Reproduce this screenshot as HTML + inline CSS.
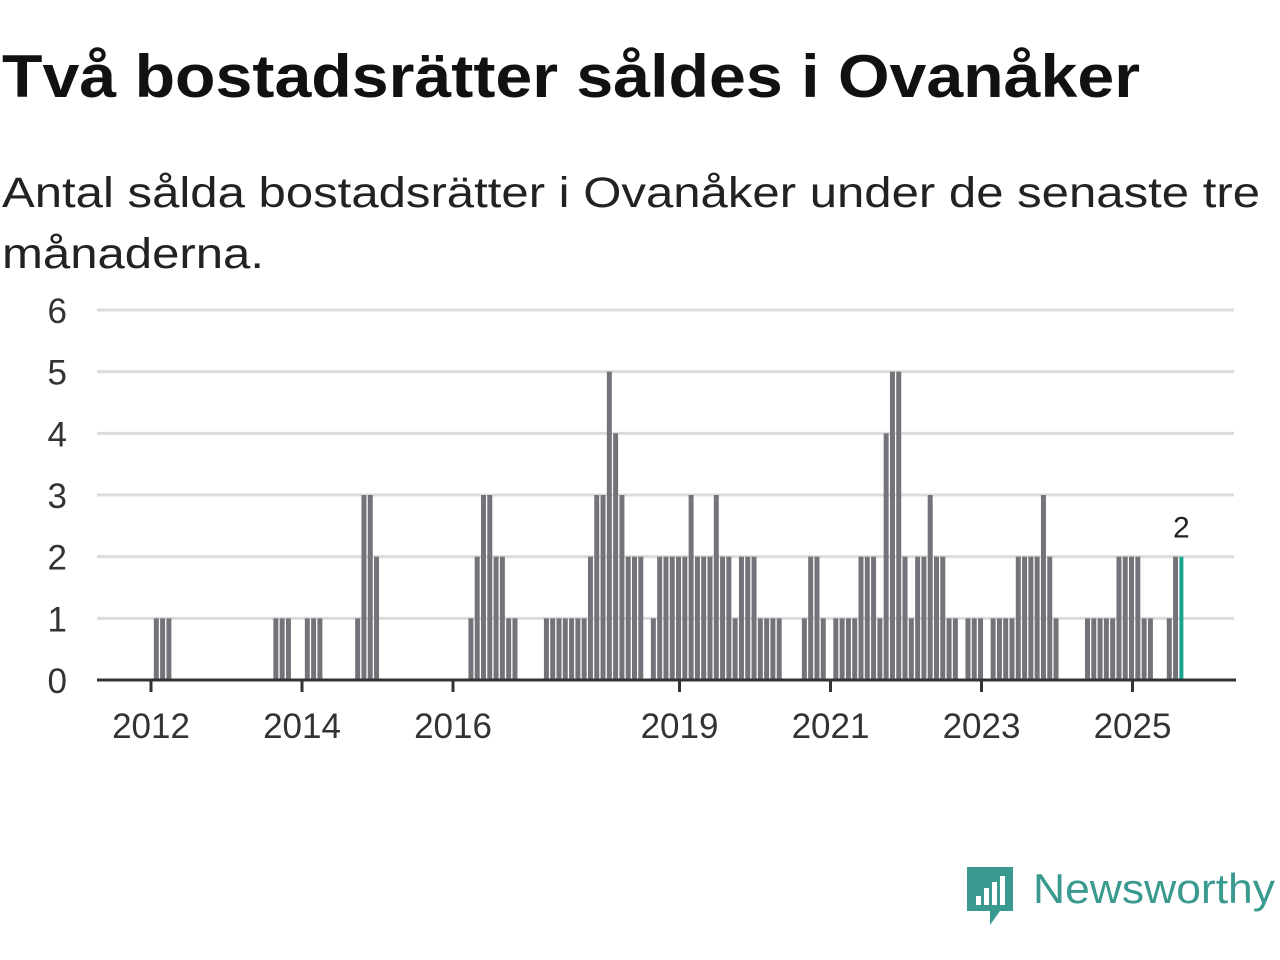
<!DOCTYPE html>
<html><head><meta charset="utf-8"><style>body{margin:0;background:#fff}svg{display:block}</style></head>
<body>
<svg id="chart" width="1280" height="960" xmlns="http://www.w3.org/2000/svg" font-family="'Liberation Sans', sans-serif">
<text x="2" y="97" font-size="60" font-weight="bold" fill="#111" textLength="1138" lengthAdjust="spacingAndGlyphs">Två bostadsrätter såldes i Ovanåker</text>
<text x="2" y="207" font-size="43" fill="#222" textLength="1258" lengthAdjust="spacingAndGlyphs">Antal sålda bostadsrätter i Ovanåker under de senaste tre</text>
<text x="2" y="268" font-size="43" fill="#222" textLength="262" lengthAdjust="spacingAndGlyphs">månaderna.</text>
<g id="grid"></g><g id="bars"></g><g id="axes"></g>
<g>
<path d="M967 867 H1013 V911 H1000 L990 925 V911 H967 Z" fill="#3a9a8f"/>
<rect x="976" y="896" width="5" height="9" fill="#fff"/><rect x="984" y="888" width="5" height="17" fill="#fff"/><rect x="992" y="882" width="5" height="23" fill="#fff"/><rect x="1000" y="876" width="5" height="29" fill="#fff"/>
<text x="1033" y="903" font-size="42" fill="#3a9a8f" textLength="242" lengthAdjust="spacingAndGlyphs">Newsworthy</text>
</g>
</svg>
<script>
const values = [1,1,1,0,0,0,0,0,0,0,0,0, 0,0,0,0,0,0,0,1,1,1,0,0, 1,1,1,0,0,0,0,0,1,3,3,2, 0,0,0,0,0,0,0,0,0,0,0,0, 0,0,1,2,3,3,2,2,1,1,0,0, 0,0,1,1,1,1,1,1,1,2,3,3, 5,4,3,2,2,2,0,1,2,2,2,2, 2,3,2,2,2,3,2,2,1,2,2,2, 1,1,1,1,0,0,0,1,2,2,1,0, 1,1,1,1,2,2,2,1,4,5,5,2, 1,2,2,3,2,2,1,1,0,1,1,1, 0,1,1,1,1,2,2,2,2,3,2,1, 0,0,0,0,1,1,1,1,1,2,2,2, 2,1,1,0,0,1,2,2];
const startYear = 2012;
const yTicks = [0,1,2,3,4,5,6];
const xTickYears = [2012,2014,2016,2019,2021,2023,2025];
const NS="http://www.w3.org/2000/svg";
const x0=151, mw=151/24, y0=680, yu=370/6, xl=97, xr=1236;
const xScale = m => x0 + m*mw;
const yScale = v => y0 - v*yu;
function mk(t,a,p){const e=document.createElementNS(NS,t);for(const k in a)e.setAttribute(k,a[k]);p.appendChild(e);return e;}
const grid=document.getElementById('grid'), bars=document.getElementById('bars'), axes=document.getElementById('axes');
yTicks.forEach(v=>{
  if(v>0){const l=mk('line',{x1:xl,x2:xr-2,y1:yScale(v),y2:yScale(v),stroke:'#dcdcdc','stroke-width':3},grid);
  
  }
  const t=mk('text',{x:67,y:yScale(v)+13,'font-size':35,fill:'#333','text-anchor':'end'},axes);t.textContent=v;
  
  
});
values.forEach((v,i)=>{
  if(v<=0)return;
  const last=i===values.length-1;
  const r=mk('rect',{x:xScale(i+0.45),y:yScale(v),width:last?4:mw-1.3,height:v*yu,fill:last?'#1aa391':'#74737a'},bars);
  
  
  if(last){const t=mk('text',{x:xScale(i+0.45)+2,y:yScale(v)-19,'font-size':30,fill:'#222','text-anchor':'middle'},axes);t.textContent=v;
  
  }
});
const ax=mk('line',{x1:xl,x2:xr,y1:y0,y2:y0,stroke:'#333','stroke-width':3},axes);


xTickYears.forEach(yr=>{
  const x=xScale((yr-startYear)*12);
  const tk=mk('line',{x1:x,x2:x,y1:y0,y2:y0+12,stroke:'#333','stroke-width':3},axes);
  
  
  const t=mk('text',{x:x,y:738,'font-size':35,fill:'#333','text-anchor':'middle'},axes);t.textContent=yr;
  
  
});
</script>
</body></html>
